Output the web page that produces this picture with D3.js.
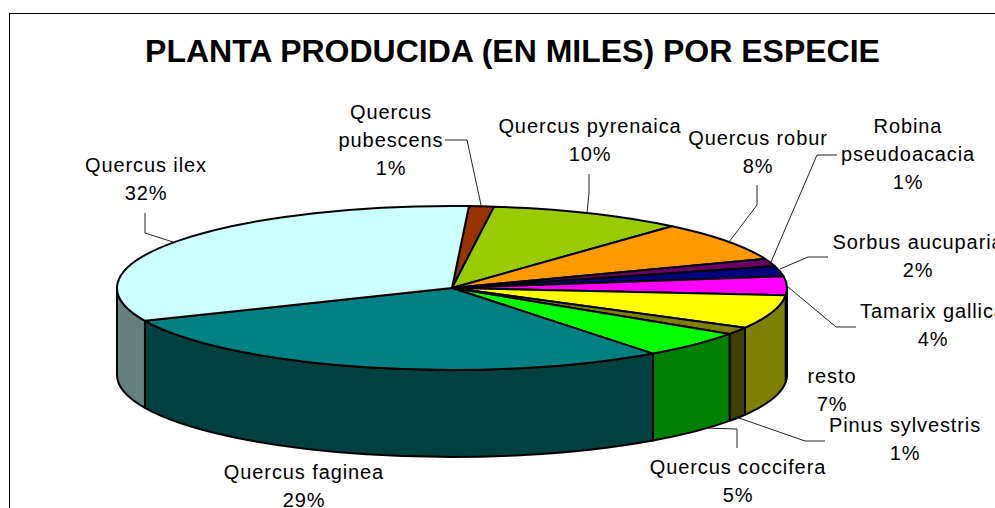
<!DOCTYPE html>
<html><head><meta charset="utf-8">
<script src="https://cdn.jsdelivr.net/npm/d3@7/dist/d3.min.js"></script>
<style>html,body{margin:0;padding:0;background:#fff;overflow:hidden}svg{display:block}
text{font-family:"Liberation Sans",Arial,sans-serif;fill:#000}</style></head>
<body><script>
const titleText = "PLANTA PRODUCIDA (EN MILES) POR ESPECIE";
const species = ["Quercus pubescens","Quercus pyrenaica","Quercus robur","Robina pseudoacacia","Sorbus aucuparia","Tamarix gallica","resto","Pinus sylvestris","Quercus coccifera","Quercus faginea","Quercus ilex"];
const shares = [1.2,9.4,7.8,1.5,2.0,3.7,6.65,1.4,5.3,28.7,32.35];
const percentLabels = ["1%","10%","8%","1%","2%","4%","7%","1%","5%","29%","32%"];
const topColors = ["#993300","#99CC00","#FF9900","#660066","#000080","#FF00FF","#FFFF00","#808000","#00FF00","#008080","#CCFFFF"];
const sideColors = ["#4D1A00","#4D6600","#804D00","#330033","#000040","#800080","#808000","#404000","#008000","#004040","#668080"];
const labelLines = [["Quercus","pubescens"],["Quercus pyrenaica"],["Quercus robur"],["Robina","pseudoacacia"],["Sorbus aucuparia"],["Tamarix gallica"],["resto"],["Pinus sylvestris"],["Quercus coccifera"],["Quercus faginea"],["Quercus ilex"]];
const labelX = [391,590,758,908,918,933,832,905,738,304,146];
const labelY = [119,133,145,133,249,318,383,432,474,479,172];
const leaders = [
 [[445,140],[467,140],[481,205]],
 [[589,174],[589,193],[587,213]],
 [[757,185],[757,205],[729,242]],
 [[837,155],[817,155],[771,262]],
 [[828,257],[808,257],[780,269]],
 [[856,327],[836,327],[787,286]],
 [],
 [[825,441],[805,441],[739,418]],
 [[737,448],[737,429],[705,428]],
 [],
 [[145,213],[145,233],[173,242]]
];

const W=995,H=508, cx=452, cy=288, rx=335, ry=82, depth=87, startDeg=2.9;
const svg=d3.select("body").append("svg").attr("width",W).attr("height",H);
const pie=d3.pie().sort(null).value(d=>d).startAngle(startDeg*Math.PI/180).endAngle((startDeg+360)*Math.PI/180);
const arcs=pie(shares);
const px=d3.scaleLinear().domain([-1,1]).range([cx-rx,cx+rx]);
const py=d3.scaleLinear().domain([-1,1]).range([cy+ry,cy-ry]);
const pt=a=>[px(Math.sin(a)),py(Math.cos(a))];

svg.append("rect").attr("x",9.5).attr("y",13.5).attr("width",W+20).attr("height",H+20).attr("fill","#fff").attr("stroke","#000").attr("stroke-width",1);

svg.append("text").attr("x",512.5).attr("y",62).attr("text-anchor","middle").attr("font-size",32).attr("font-weight","bold").text(titleText);

// side walls for the visible front half (angles between 90 and 270 deg)
function sidePath(a0,a1){
  const [x0,y0]=pt(a0),[x1,y1]=pt(a1);
  return `M${x0},${y0}A${rx},${ry} 0 0 1 ${x1},${y1}L${x1},${y1+depth}A${rx},${ry} 0 0 0 ${x0},${y0+depth}Z`;
}
const lo=Math.PI/2, hi=3*Math.PI/2;
const sides=arcs.map((d,i)=>({i,a0:Math.max(d.startAngle,lo),a1:Math.min(d.endAngle,hi)})).filter(d=>d.a1>d.a0);
svg.append("g").selectAll("path").data(sides).join("path")
  .attr("d",d=>sidePath(d.a0,d.a1)).attr("fill",d=>sideColors[d.i])
  .attr("stroke","#000").attr("stroke-width",2).attr("stroke-linejoin","round");

// top face
function slicePath(d){
  const [x0,y0]=pt(d.startAngle),[x1,y1]=pt(d.endAngle);
  const large=d.endAngle-d.startAngle>Math.PI?1:0;
  return `M${cx},${cy}L${x0},${y0}A${rx},${ry} 0 ${large} 1 ${x1},${y1}Z`;
}
svg.append("g").selectAll("path").data(arcs).join("path")
  .attr("d",slicePath).attr("fill",(d,i)=>topColors[i])
  .attr("stroke","#000").attr("stroke-width",2).attr("stroke-linejoin","round");

// leader lines
const line=d3.line();
svg.append("g").selectAll("path").data(leaders.filter(l=>l.length)).join("path")
  .attr("d",line).attr("fill","none").attr("stroke","#222").attr("stroke-width",1);

// labels
const fs=20, lh=28;
const g=svg.append("g").attr("font-size",fs).attr("text-anchor","middle").attr("letter-spacing","0.9px");
species.forEach((s,i)=>{
  const lines=[...labelLines[i],percentLabels[i]];
  const t=g.append("text").attr("data-name",s);
  lines.forEach((l,k)=>t.append("tspan").attr("x",labelX[i]).attr("y",labelY[i]+k*lh).text(l));
});
</script></body></html>
